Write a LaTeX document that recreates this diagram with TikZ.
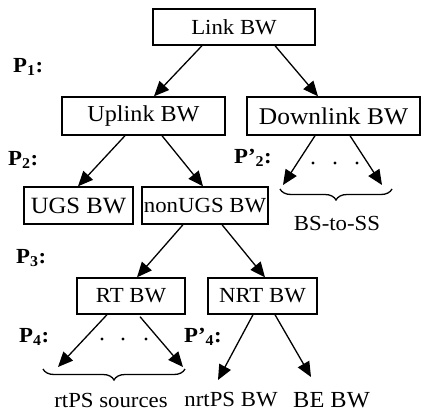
\documentclass[tikz,border=0pt]{standalone}
\usepackage{fontspec}
\setmainfont[FakeStretch=1.06]{Liberation Serif}
\usetikzlibrary{arrows.meta,decorations.pathreplacing,calc}
\newcommand{\fsz}[1]{\fontsize{#1}{#1}\selectfont}
\begin{document}
\begin{tikzpicture}[x=1pt,y=-1pt,
  bwbox/.style={draw,line width=1.4pt,inner sep=0pt,font=\fsz{21.5}},
  lbl/.style={inner sep=0pt,font=\fsz{21.5}},
  plbl/.style={inner sep=0pt,anchor=base west,font=\fsz{21.5}\bfseries},
  arr/.style={line width=1.3pt,-{Triangle[length=15pt,width=13pt]}},
  brc/.style={line width=1.3pt,decorate,decoration={brace,mirror,amplitude=11pt}},
  dot/.style={fill,circle,inner sep=0pt,minimum size=3.2pt}]
\useasboundingbox (0,0) rectangle (422,412);

% bandwidth boxes
\node[bwbox,minimum width=162pt,minimum height=36pt] (link) at (234,27) {Link BW};
\node[bwbox,minimum width=163pt,minimum height=38pt,font=\fsz{22.8}] (up) at (143.5,116) {Uplink BW};
\node[bwbox,minimum width=173pt,minimum height=38pt,font=\fsz{24}] (down) at (333.5,116) {Downlink BW};
\node[bwbox,minimum width=109pt,minimum height=37pt,font=\fsz{23.3}] (ugs) at (78.5,205.5) {UGS BW};
\node[bwbox,minimum width=126pt,minimum height=37pt] (nonugs) at (205,205.5) {nonUGS BW};
\node[bwbox,minimum width=108pt,minimum height=36pt] (rt) at (131,296) {RT BW};
\node[bwbox,minimum width=109pt,minimum height=36pt] (nrt) at (262.5,296) {NRT BW};

% leaf labels
\node[lbl] (bsss) at (337,223) {BS-to-SS};
\node[lbl] (rtps) at (111,400) {rtPS sources};
\node[lbl] (nrtps) at (231,400) {nrtPS BW};
\node[lbl,font=\fsz{23}] (be) at (331.5,400) {BE BW};

% free arrow ends
\coordinate (d1) at (283,185);
\coordinate (d2) at (382,185);
\coordinate (r1) at (58,367);
\coordinate (r2) at (183,367);
\coordinate (n1) at (218,380);
\coordinate (n2) at (311,377);

% level labels
\node[plbl] (p1) at (13,72) {P\textsubscript{1}:};
\node[plbl] (p2) at (8,165) {P\textsubscript{2}:};
\node[plbl] (p2b) at (234,163) {P’\textsubscript{2}:};
\node[plbl] (p3) at (16,263) {P\textsubscript{3}:};
\node[plbl] (p4) at (19,342) {P\textsubscript{4}:};
\node[plbl] (p4b) at (184,342) {P’\textsubscript{4}:};

% connectors
\draw[arr] ([xshift=-32pt]link.south) -- (up.north -| 154,0);
\draw[arr] ([xshift=41pt]link.south) -- (down.north -| 318,0);
\draw[arr] ([xshift=-18.5pt]up.south) -- (ugs.north -| 78,0);
\draw[arr] ([xshift=18.5pt]up.south) -- (nonugs.north -| 203,0);
\draw[arr] ([xshift=-18.5pt]down.south) -- (d1);
\draw[arr] ([xshift=16.5pt]down.south) -- (d2);
\draw[arr] ([xshift=-22pt]nonugs.south) -- (rt.north -| 137,0);
\draw[arr] ([xshift=17pt]nonugs.south) -- (nrt.north -| 265,0);
\draw[arr] ([xshift=-24pt]rt.south) -- (r1);
\draw[arr] ([xshift=9pt,yshift=-2pt]rt.south) -- (r2);
\draw[arr] ([xshift=-9.5pt]nrt.south) -- (n1);
\draw[arr] ([xshift=12.5pt]nrt.south) -- (n2);

% ellipsis dots
\foreach \x in {313,335,357} \node[dot] at (\x,163) {};
\foreach \x in {102,123,146} \node[dot] at (\x,339) {};

% grouping braces
\draw[brc] (280,189) -- (392,189);
\draw[brc] (43,369) -- (185,369);
\end{tikzpicture}
\end{document}
